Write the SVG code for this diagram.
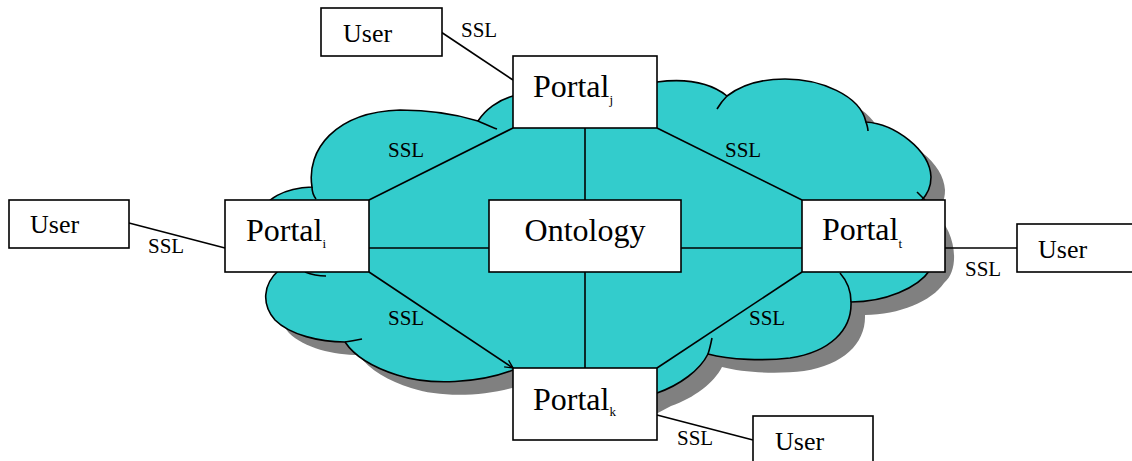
<svg xmlns="http://www.w3.org/2000/svg" width="1132" height="461" viewBox="0 0 1132 461">
<defs>
<style>
.box{fill:#fff;stroke:#000;stroke-width:1.6}
.ln{fill:none;stroke:#000;stroke-width:1.6}
.edge{fill:none;stroke:#000;stroke-width:1.6}
.t{font-family:"Liberation Serif","Times New Roman",serif;fill:#000}
.big{font-size:32px}
.usr{font-size:26px}
.ssl{font-size:21px}
.sub{font-size:13px}
</style>
<path id="cloudShape" d="M 262,215 C 263,199 285,188 312,187 C 306,150 335,112 400,110 C 435,110 462,116 478,121 C 485,110 498,100 513,96 L 530,75 L 640,70 L 657,82 C 688,78 712,84 727,96 C 745,82 765,79 785,79 C 820,79 860,95 866,122 C 895,124 930,150 931,177 C 931,188 927,195 921,201 C 940,215 948,255 930,270 C 918,288 885,302 851,302 C 852,330 830,352 790,358 C 765,361 730,360 708,354 C 700,370 680,385 657,393 L 640,402 L 530,390 L 513,370 C 480,383 430,386 397,375 C 375,368 355,357 345,342 C 320,342 290,335 275,320 C 262,305 262,285 279,270 Z"/>
<marker id="barb" markerWidth="10" markerHeight="10" refX="9" refY="5" orient="auto" markerUnits="userSpaceOnUse">
<path d="M 1,1 L 9,5 L 1,9" fill="none" stroke="#000" stroke-width="1.4"/>
</marker>
</defs>
<g id="cloud">
<use href="#cloudShape" transform="translate(14,13)" fill="#808080"/>
<use href="#cloudShape" fill="#33CCCC" stroke="#000" stroke-width="1.6"/>
<path class="edge" d="M 312,187 C 312,191 313,195 316,199"/>
<path class="edge" d="M 478,121 C 485,124 491,127 497,129"/>
<path class="edge" d="M 717,109 C 720,104 723,100 727,96"/>
<path class="edge" d="M 866,122 C 867,125 868,128 868,131"/>
<path class="edge" d="M 917,192 Q 921,196 925,200"/>
<path class="edge" d="M 840,273 C 848,282 851,292 851,302"/>
<path class="edge" d="M 708,354 C 710,348 711,343 712,338"/>
<path class="edge" d="M 345,342 C 352,341 357,340 362,339"/>
<path class="edge" d="M 305,272 Q 315,276 326,276"/>
</g>
<g id="connectors">
<line class="ln" x1="441" y1="32" x2="513" y2="80"/>
<line class="ln" x1="129" y1="223" x2="225" y2="248"/>
<line class="ln" x1="945" y1="248" x2="1017" y2="248"/>
<line class="ln" x1="657" y1="415" x2="753" y2="440"/>
<line class="ln" x1="513" y1="128" x2="369" y2="200"/>
<line class="ln" x1="657" y1="128" x2="802" y2="200"/>
<line class="ln" x1="369" y1="272" x2="513" y2="368" marker-end="url(#barb)"/>
<line class="ln" x1="802" y1="272" x2="657" y2="368"/>
<line class="ln" x1="585" y1="128" x2="585" y2="200"/>
<line class="ln" x1="585" y1="272" x2="585" y2="368"/>
<line class="ln" x1="369" y1="248" x2="489" y2="248"/>
<line class="ln" x1="681" y1="248" x2="802" y2="248"/>
<text class="t ssl" x="461" y="37">SSL</text>
<text class="t ssl" x="148" y="253">SSL</text>
<text class="t ssl" x="965" y="276">SSL</text>
<text class="t ssl" x="677" y="445">SSL</text>
<text class="t ssl" x="388" y="157">SSL</text>
<text class="t ssl" x="725" y="157">SSL</text>
<text class="t ssl" x="388" y="325">SSL</text>
<text class="t ssl" x="749" y="325">SSL</text>
</g>
<g id="user-top">
<rect class="box" x="321" y="8" width="121" height="48"/>
<text class="t usr" x="343" y="42">User</text>
</g>
<g id="portal-j">
<rect class="box" x="513" y="56" width="144" height="72"/>
<text class="t big" x="533" y="97">Portal<tspan class="sub" dy="7">j</tspan></text>
</g>
<g id="user-left">
<rect class="box" x="9" y="200" width="120" height="48"/>
<text class="t usr" x="30" y="233">User</text>
</g>
<g id="portal-i">
<rect class="box" x="225" y="200" width="144" height="72"/>
<text class="t big" x="246" y="241">Portal<tspan class="sub" dy="7">i</tspan></text>
</g>
<g id="ontology">
<rect class="box" x="489" y="200" width="192" height="72"/>
<text class="t big" x="585" y="241" text-anchor="middle">Ontology</text>
</g>
<g id="portal-t">
<rect class="box" x="802" y="200" width="143" height="72"/>
<text class="t big" x="822" y="240">Portal<tspan class="sub" dy="8">t</tspan></text>
</g>
<g id="user-right">
<rect class="box" x="1017" y="224" width="125" height="48"/>
<text class="t usr" x="1038" y="258">User</text>
</g>
<g id="portal-k">
<rect class="box" x="513" y="368" width="144" height="72"/>
<text class="t big" x="533" y="410">Portal<tspan class="sub" dy="6">k</tspan></text>
</g>
<g id="user-bottom">
<rect class="box" x="753" y="416" width="120" height="50"/>
<text class="t usr" x="775" y="450">User</text>
</g>
</svg>
